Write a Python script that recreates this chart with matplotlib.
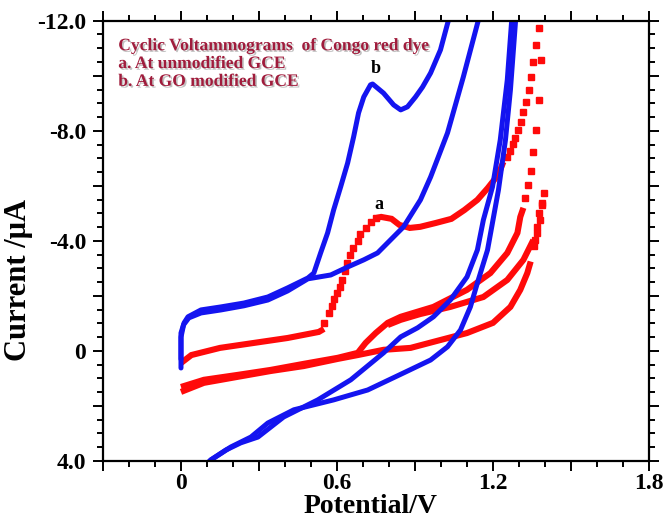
import matplotlib
matplotlib.use("Agg")
import matplotlib.pyplot as plt
import matplotlib.patheffects as pe
from matplotlib.ticker import MultipleLocator, FuncFormatter

# --- blue: GO modified GCE (b) ---
b_fwd1_x = [0.0, 0.0, 0.0, 0.012, 0.027, 0.077, 0.154, 0.242, 0.334, 0.41, 0.488,
            0.511, 0.537, 0.564, 0.587, 0.614, 0.641, 0.664, 0.683, 0.703, 0.729,
            0.737, 0.779, 0.818, 0.845, 0.871, 0.902, 0.929, 0.96, 0.998, 1.029, 1.04]
b_fwd1_y = [0.62, -0.04, -0.65, -1.02, -1.24, -1.49, -1.60, -1.74, -1.96, -2.29, -2.65,
            -2.83, -3.56, -4.29, -5.12, -5.96, -6.83, -7.78, -8.65, -9.23, -9.67,
            -9.70, -9.37, -8.94, -8.76, -8.87, -9.23, -9.59, -10.10, -10.94, -12.03, -12.4]

b_fwd2_x = [0.0, 0.0, 0.01, 0.03, 0.077, 0.154, 0.242, 0.334, 0.41, 0.488,
            0.576, 0.641, 0.703, 0.756, 0.856, 0.921, 0.96, 1.025, 1.086, 1.144, 1.16]
b_fwd2_y = [0.3, -0.5, -0.95, -1.2, -1.38, -1.49, -1.64, -1.85, -2.18, -2.62,
            -2.76, -3.05, -3.31, -3.56, -4.51, -5.49, -6.32, -7.92, -9.96, -12.03, -12.6]

b_rev1_x = [1.275, 1.255, 1.228, 1.198, 1.163, 1.14, 1.10, 1.036, 0.971, 0.91,
            0.845, 0.779, 0.653, 0.526, 0.395, 0.296, 0.23, 0.173, 0.115, 0.096]
b_rev1_y = [-12.4, -9.85, -7.67, -5.96, -4.76, -3.67, -2.69, -1.85, -1.24, -0.84,
            -0.51, 0.07, 1.05, 1.78, 2.40, 3.13, 3.34, 3.60, 3.96, 4.14]

b_rev2_x = [1.29, 1.267, 1.248, 1.221, 1.20, 1.179, 1.14, 1.113, 1.075, 1.025,
            0.96, 0.856, 0.718, 0.587, 0.434, 0.334, 0.269, 0.192, 0.115, 0.096]
b_rev2_y = [-12.4, -9.48, -7.67, -5.85, -4.76, -3.67, -2.47, -1.60, -0.76, -0.15,
            0.33, 0.80, 1.42, 1.78, 2.14, 2.62, 3.13, 3.49, 3.96, 4.14]

# --- red: unmodified GCE (a) ---
a_start_x = [0.0, 0.04, 0.15, 0.28, 0.41, 0.53, 0.55]
a_start_y = [0.44, 0.15, -0.11, -0.29, -0.47, -0.69, -0.80]

a_rise_x = [0.55, 0.57, 0.58, 0.59, 0.60, 0.61, 0.62, 0.63, 0.64, 0.65, 0.66,
            0.68, 0.69, 0.71, 0.73, 0.75]
a_rise_y = [-1.02, -1.38, -1.64, -1.89, -2.11, -2.33, -2.58, -2.91, -3.20, -3.49, -3.74,
            -4.00, -4.25, -4.47, -4.69, -4.83]

a_peak_x = [0.75, 0.77, 0.81, 0.84, 0.88, 0.92, 0.98, 1.04, 1.09, 1.14, 1.18, 1.22, 1.24]
a_peak_y = [-4.83, -4.87, -4.80, -4.58, -4.47, -4.51, -4.65, -4.80, -5.12, -5.49, -5.92,
            -6.40, -6.87]

a_up_x = [1.255, 1.267, 1.278, 1.286, 1.298, 1.309, 1.317, 1.328, 1.340, 1.347, 1.355,
          1.367, 1.378]
a_up_y = [-7.05, -7.27, -7.52, -7.74, -8.03, -8.32, -8.68, -9.05, -9.48, -9.96, -10.50,
          -11.12, -11.74]

a_down_x = [1.386, 1.378, 1.367, 1.355, 1.347, 1.336, 1.324]
a_down_y = [-10.57, -9.12, -8.03, -7.23, -6.54, -6.03, -5.56]

a_back_x = [1.317, 1.305, 1.294, 1.255, 1.19, 1.10, 0.971, 0.845, 0.795, 0.749, 0.71,
            0.68, 0.603, 0.472, 0.345, 0.219, 0.088, 0.0]
a_back_y = [-5.20, -4.87, -4.29, -3.56, -2.83, -2.22, -1.60, -1.24, -1.02, -0.65, -0.29,
            0.07, 0.25, 0.47, 0.69, 0.87, 1.05, 1.31]

a_cyc2_x = [0.0, 0.088, 0.219, 0.345, 0.472, 0.603, 0.68, 0.779, 0.883, 0.971, 1.10,
            1.20, 1.267, 1.305, 1.332, 1.345]
a_cyc2_y = [1.49, 1.16, 0.94, 0.73, 0.55, 0.29, 0.15, -0.04, -0.11, -0.33, -0.65,
            -1.02, -1.60, -2.22, -2.83, -3.25]

a_tip_x = [1.358, 1.37, 1.382, 1.39, 1.397, 1.39, 1.378, 1.37, 1.362]
a_tip_y = [-3.80, -4.29, -4.76, -5.38, -5.74, -5.30, -5.01, -4.50, -4.03]

a_ret2_x = [1.355, 1.317, 1.255, 1.163, 1.036, 0.92, 0.845, 0.795]
a_ret2_y = [-4.03, -3.31, -2.58, -1.96, -1.60, -1.34, -1.13, -0.94]

x_ticks_lab = [0.0, 0.6, 1.2, 1.8]
y_ticks_lab = [-12.0, -8.0, -4.0, 0.0, 4.0]

BLUE = '#1414f0'
RED = '#ff0a0a'

plt.rcParams['font.family'] = ['Liberation Serif', 'DejaVu Serif']
fig = plt.figure(figsize=(6.67, 5.26), dpi=100)
ax = fig.add_axes([0.1544, 0.1236, 0.8186, 0.837])

# red traces
for xs, ys in [(a_start_x, a_start_y), (a_peak_x, a_peak_y), (a_back_x, a_back_y),
               (a_cyc2_x, a_cyc2_y), (a_ret2_x, a_ret2_y)]:
    ax.plot(xs, ys, color=RED, lw=4.4, solid_capstyle='butt', solid_joinstyle='miter')
for xs, ys in [(a_rise_x, a_rise_y), (a_up_x, a_up_y), (a_down_x, a_down_y),
               (a_tip_x, a_tip_y)]:
    ax.plot(xs, ys, ls='none', marker='s', ms=4.4, color=RED, mec=RED)

# blue traces
for xs, ys in [(b_fwd1_x, b_fwd1_y), (b_fwd2_x, b_fwd2_y), (b_rev1_x, b_rev1_y),
               (b_rev2_x, b_rev2_y)]:
    ax.plot(xs, ys, color=BLUE, lw=3.6, solid_capstyle='round')

ax.set_xlim(-0.3, 1.8)
ax.set_ylim(4.0, -12.0)

ax.xaxis.set_major_locator(MultipleLocator(0.3))
ax.xaxis.set_minor_locator(MultipleLocator(0.1))
ax.yaxis.set_major_locator(MultipleLocator(2.0))
ax.yaxis.set_minor_locator(MultipleLocator(0.5))


def xfmt(v, pos):
    for t in x_ticks_lab:
        if abs(v - t) < 1e-6:
            return '0' if t == 0 else '%.1f' % t
    return ''


def yfmt(v, pos):
    for t in y_ticks_lab:
        if abs(v - t) < 1e-6:
            return '0' if t == 0 else '%.1f' % t
    return ''


ax.xaxis.set_major_formatter(FuncFormatter(xfmt))
ax.yaxis.set_major_formatter(FuncFormatter(yfmt))

ax.tick_params(which='both', direction='out', top=True, right=True, width=1.4)
ax.tick_params(which='major', length=7)
ax.tick_params(which='minor', length=4)
ax.tick_params(axis='x', pad=2)
ax.tick_params(axis='y', pad=5)
for lab in ax.get_xticklabels() + ax.get_yticklabels():
    lab.set_fontsize(17)
    lab.set_fontweight('bold')
for sp in ax.spines.values():
    sp.set_linewidth(1.6)

ax.set_xlabel('Potential/V', fontsize=20, fontweight='bold')
ax.set_ylabel('Current /μA', fontsize=22, fontweight='bold')
ax.xaxis.set_label_coords(0.49, -0.074)
ax.yaxis.set_label_coords(-0.128, 0.41)

shadow = [pe.SimplePatchShadow(offset=(1.2, -1.2), shadow_rgbFace='#999999', alpha=0.6),
          pe.Normal()]
legend_lines = ['Cyclic Voltammograms  of Congo red dye',
                'a. At unmodified GCE',
                'b. At GO modified GCE']
for i, s in enumerate(legend_lines):
    ax.text(0.028, 0.933 - i * 0.0405, s, transform=ax.transAxes, fontsize=12.6,
            fontweight='bold', color='#a01c3c', path_effects=shadow, va='baseline')

ax.text(0.75, -9.95, 'b', fontsize=13, fontweight='bold', ha='center', va='bottom')
ax.text(0.76, -5.0, 'a', fontsize=13, fontweight='bold', ha='center', va='bottom')

fig.savefig('out.png', dpi=100)
